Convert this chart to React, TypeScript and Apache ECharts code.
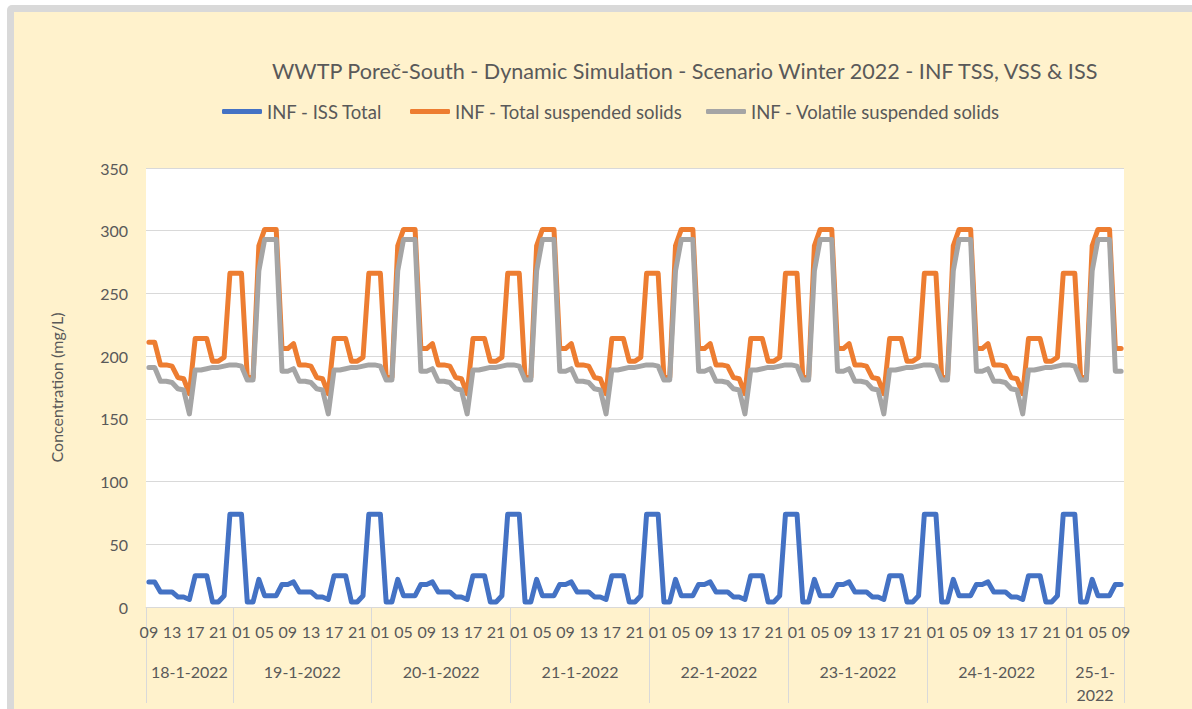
import React, { useEffect, useRef } from "react";
import * as echarts from "echarts";

const titleText = "WWTP Poreč-South - Dynamic Simulation - Scenario Winter 2022 - INF TSS, VSS & ISS";
const seriesNames = ["INF - ISS Total", "INF - Total suspended solids", "INF - Volatile suspended solids"];
const seriesColors = ["#4472C4", "#ED7D31", "#A5A5A5"];
const yAxisName = "Concentration (mg/L)";

// hours covered per day label (18-1 starts at 09:00, 25-1 ends at 09:00)
const firstHour = 9;
const hoursPerDay = [15, 24, 24, 24, 24, 24, 24, 10];
const dayLabels = ["18-1-2022", "19-1-2022", "20-1-2022", "21-1-2022", "22-1-2022", "23-1-2022", "24-1-2022", "25-1-\n2022"];

// hourly values (mg/L), one row per day
const issTotal = [
  20, 20, 12, 12, 12, 8, 8, 6, 25, 25, 25, 4, 4, 9, 74,
  74, 74, 4, 4, 22, 9, 9, 9, 18, 18, 20, 12, 12, 12, 8, 8, 6, 25, 25, 25, 4, 4, 9, 74,
  74, 74, 4, 4, 22, 9, 9, 9, 18, 18, 20, 12, 12, 12, 8, 8, 6, 25, 25, 25, 4, 4, 9, 74,
  74, 74, 4, 4, 22, 9, 9, 9, 18, 18, 20, 12, 12, 12, 8, 8, 6, 25, 25, 25, 4, 4, 9, 74,
  74, 74, 4, 4, 22, 9, 9, 9, 18, 18, 20, 12, 12, 12, 8, 8, 6, 25, 25, 25, 4, 4, 9, 74,
  74, 74, 4, 4, 22, 9, 9, 9, 18, 18, 20, 12, 12, 12, 8, 8, 6, 25, 25, 25, 4, 4, 9, 74,
  74, 74, 4, 4, 22, 9, 9, 9, 18, 18, 20, 12, 12, 12, 8, 8, 6, 25, 25, 25, 4, 4, 9, 74,
  74, 74, 4, 4, 22, 9, 9, 9, 18, 18,
];

const tssTotal = [
  211, 211, 193, 193, 192, 183, 182, 170, 214, 214, 214, 196, 196, 199, 266,
  266, 266, 183, 183, 288, 301, 301, 301, 206, 206, 210, 193, 193, 192, 183, 182, 170, 214, 214, 214, 196, 196, 199, 266,
  266, 266, 183, 183, 288, 301, 301, 301, 206, 206, 210, 193, 193, 192, 183, 182, 170, 214, 214, 214, 196, 196, 199, 266,
  266, 266, 183, 183, 288, 301, 301, 301, 206, 206, 210, 193, 193, 192, 183, 182, 170, 214, 214, 214, 196, 196, 199, 266,
  266, 266, 183, 183, 288, 301, 301, 301, 206, 206, 210, 193, 193, 192, 183, 182, 170, 214, 214, 214, 196, 196, 199, 266,
  266, 266, 183, 183, 288, 301, 301, 301, 206, 206, 210, 193, 193, 192, 183, 182, 170, 214, 214, 214, 196, 196, 199, 266,
  266, 266, 183, 183, 288, 301, 301, 301, 206, 206, 210, 193, 193, 192, 183, 182, 170, 214, 214, 214, 196, 196, 199, 266,
  266, 266, 183, 183, 288, 301, 301, 301, 206, 206,
];

const vssTotal = [
  191, 191, 180, 180, 179, 174, 173, 154, 189, 189, 190, 191, 191, 192, 193,
  193, 192, 181, 181, 268, 293, 293, 293, 188, 188, 190, 180, 180, 179, 174, 173, 154, 189, 189, 190, 191, 191, 192, 193,
  193, 192, 181, 181, 268, 293, 293, 293, 188, 188, 190, 180, 180, 179, 174, 173, 154, 189, 189, 190, 191, 191, 192, 193,
  193, 192, 181, 181, 268, 293, 293, 293, 188, 188, 190, 180, 180, 179, 174, 173, 154, 189, 189, 190, 191, 191, 192, 193,
  193, 192, 181, 181, 268, 293, 293, 293, 188, 188, 190, 180, 180, 179, 174, 173, 154, 189, 189, 190, 191, 191, 192, 193,
  193, 192, 181, 181, 268, 293, 293, 293, 188, 188, 190, 180, 180, 179, 174, 173, 154, 189, 189, 190, 191, 191, 192, 193,
  193, 192, 181, 181, 268, 293, 293, 293, 188, 188, 190, 180, 180, 179, 174, 173, 154, 189, 189, 190, 191, 191, 192, 193,
  193, 192, 181, 181, 268, 293, 293, 293, 188, 188,
];

const yMin = 0;
const yMax = 350;
const yStep = 50;

// hour category labels
const hourLabels: string[] = [];
hoursPerDay.forEach((n, d) => {
  const h0 = d === 0 ? firstHour : 0;
  for (let k = 0; k < n; k++) hourLabels.push(String(h0 + k).padStart(2, "0"));
});

// second axis in half-hour steps (boundaryGap false) for day groups
const boundaries: number[] = [0];
hoursPerDay.forEach((n) => boundaries.push(boundaries[boundaries.length - 1] + n * 2));
const totalHalf = boundaries[boundaries.length - 1];
const dayCats: string[] = new Array(totalHalf + 1).fill("");
const centerSet = new Set<number>();
dayLabels.forEach((lab, d) => {
  const c = (boundaries[d] + boundaries[d + 1]) / 2;
  dayCats[c] = lab;
  centerSet.add(c);
});
const boundarySet = new Set<number>(boundaries);

const FONT = "Lato";
const TXT = "#595959";
const GRID = "#D9D9D9";

export default function App() {
  const ref = useRef<HTMLDivElement>(null);
  useEffect(() => {
    const chart = echarts.init(ref.current!, null, { renderer: "svg" });
    const legendBase = {
      icon: "roundRect",
      itemWidth: 40,
      itemHeight: 5,
      top: 102,
      padding: 0,
      itemGap: 0,
      textStyle: { fontFamily: FONT, fontSize: 18.5, color: TXT },
    };
    chart.setOption({
      animation: false,
      backgroundColor: "transparent",
      textStyle: { fontFamily: FONT },
      title: {
        text: titleText,
        left: 267,
        top: 55,
        textStyle: { fontFamily: FONT, fontSize: 21.6, fontWeight: "normal", color: TXT },
      },
      legend: [
        { ...legendBase, left: 222, data: [seriesNames[0]] },
        { ...legendBase, left: 410, data: [seriesNames[1]] },
        { ...legendBase, left: 706, data: [seriesNames[2]] },
      ],
      grid: {
        left: 146,
        right: 68,
        top: 168,
        bottom: 102,
        show: true,
        backgroundColor: "#FFFFFF",
        borderWidth: 0,
      },
      xAxis: [
        {
          type: "category",
          data: hourLabels,
          boundaryGap: true,
          axisLine: { show: true, lineStyle: { color: GRID, width: 1 } },
          axisTick: { show: false },
          splitLine: { show: false },
          axisLabel: { interval: 3, color: TXT, fontFamily: FONT, fontSize: 16, margin: 16 },
        },
        {
          type: "category",
          data: dayCats,
          boundaryGap: false,
          position: "bottom",
          axisLine: { show: false },
          axisTick: {
            show: true,
            length: 96,
            interval: (i: number) => boundarySet.has(i),
            lineStyle: { color: GRID, width: 1 },
          },
          splitLine: { show: false },
          axisLabel: {
            interval: (i: number) => centerSet.has(i),
            color: TXT,
            fontFamily: FONT,
            fontSize: 16,
            margin: 53,
            lineHeight: 23,
          },
        },
      ],
      yAxis: {
        type: "value",
        min: yMin,
        max: yMax,
        interval: yStep,
        name: yAxisName,
        nameLocation: "middle",
        nameGap: 82,
        nameRotate: 90,
        nameTextStyle: { fontFamily: FONT, fontSize: 16, color: TXT },
        axisLine: { show: false },
        axisTick: { show: false },
        axisLabel: { color: TXT, fontFamily: FONT, fontSize: 16, margin: 18 },
        splitLine: { show: true, lineStyle: { color: GRID, width: 1 } },
      },
      series: [issTotal, tssTotal, vssTotal].map((data, k) => ({
        name: seriesNames[k],
        type: "line",
        xAxisIndex: 0,
        data,
        symbol: "none",
        showSymbol: false,
        color: seriesColors[k],
        lineStyle: { color: seriesColors[k], width: 5, cap: "round", join: "round" },
      })),
    });
    return () => chart.dispose();
  }, []);

  return (
    <div style={{ position: "fixed", left: 0, top: 0, width: 1192, height: 709, background: "#FFFFFF", overflow: "hidden" }}>
      <div style={{ position: "absolute", left: 7, top: 5, width: 1250, height: 760, background: "#D9D9D9", borderRadius: 5 }} />
      <div style={{ position: "absolute", left: 14, top: 12, width: 1250, height: 760, background: "#FFF2CC" }} />
      <div ref={ref} style={{ position: "absolute", left: 0, top: 0, width: 1192, height: 709 }} />
    </div>
  );
}
